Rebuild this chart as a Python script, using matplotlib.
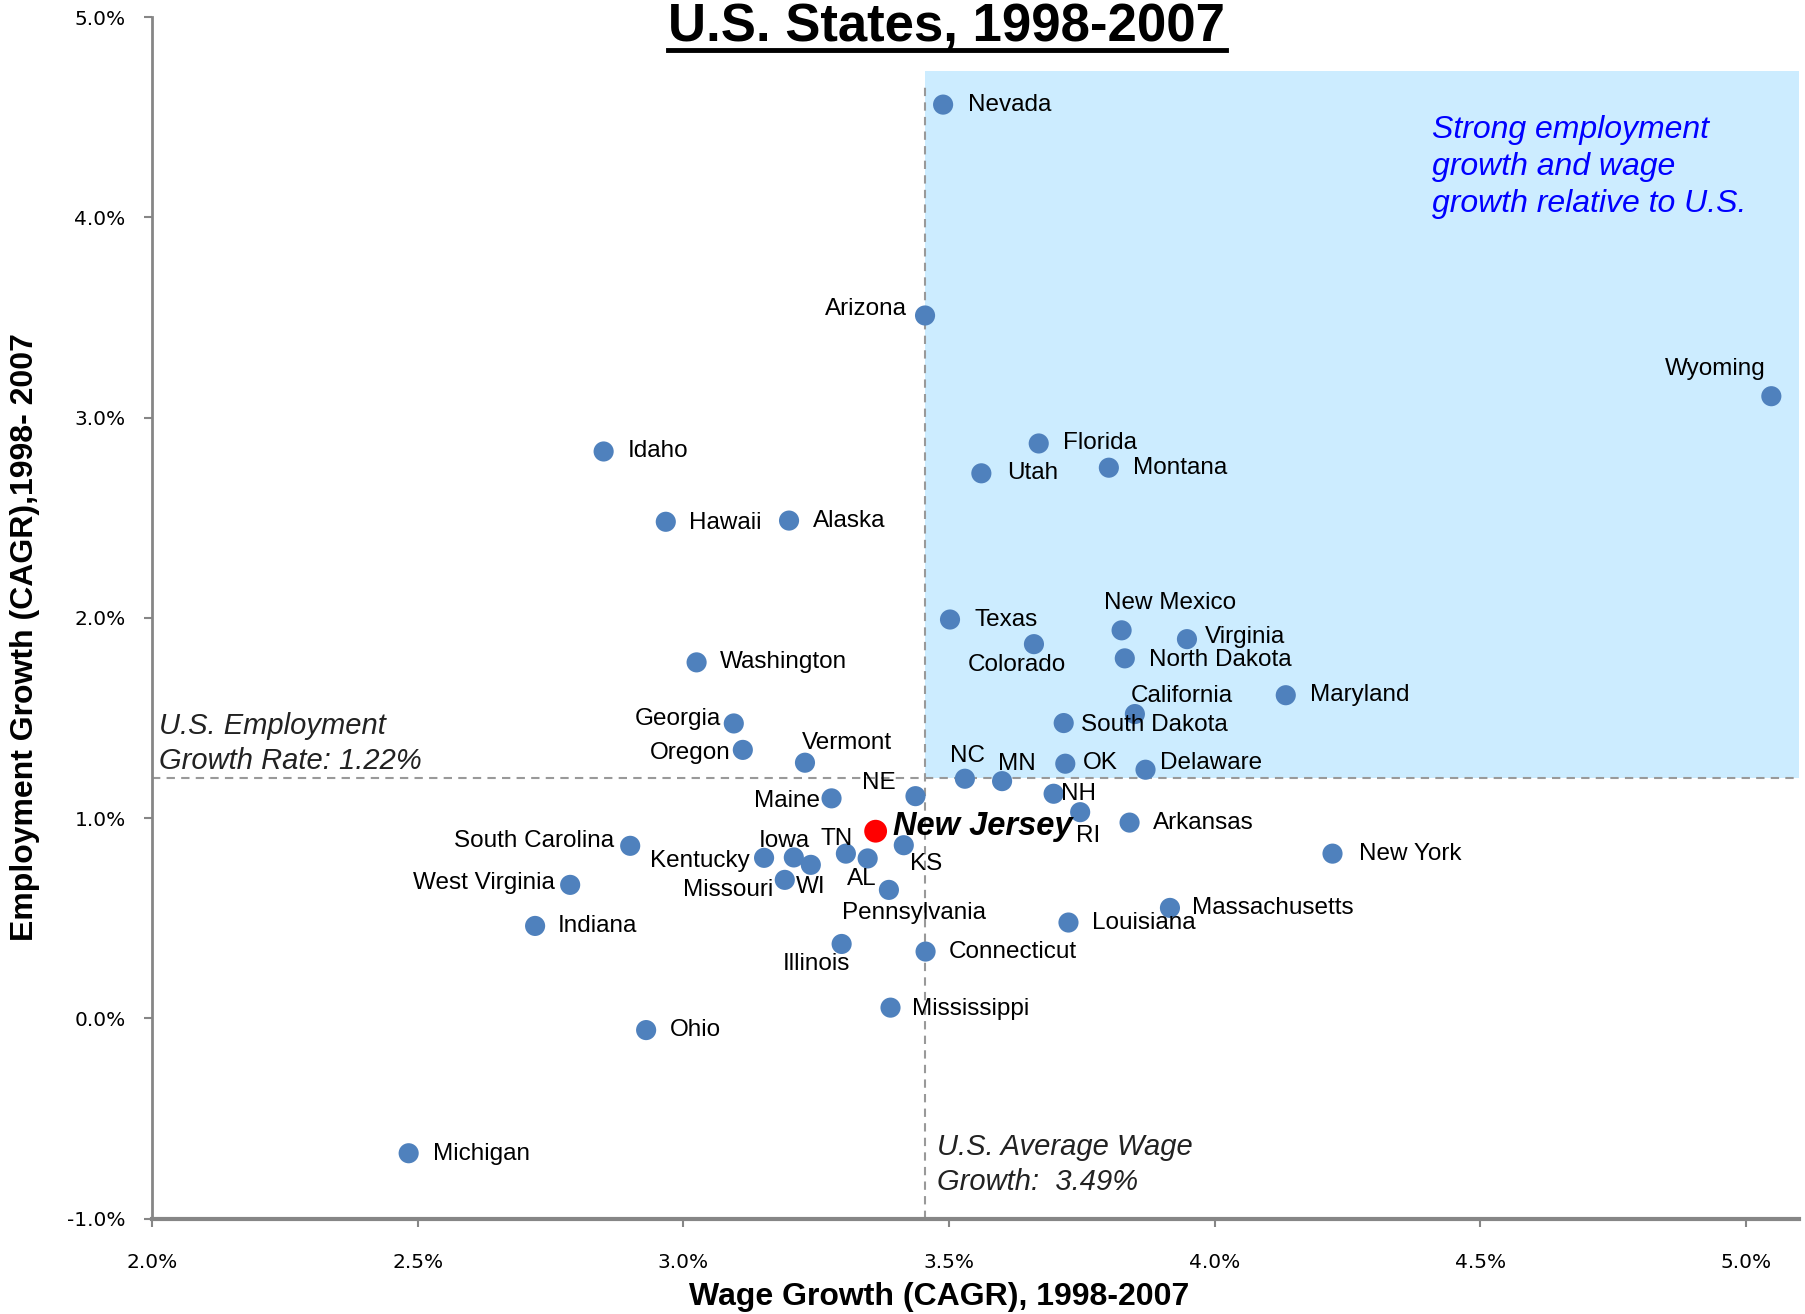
import matplotlib
matplotlib.use("Agg")
import matplotlib.pyplot as plt
from matplotlib.patches import Rectangle
from matplotlib.lines import Line2D
from matplotlib.ticker import FuncFormatter, MultipleLocator


STATES = [
    "Nevada", "Arizona", "Wyoming", "Idaho", "Florida", "Utah", "Montana",
    "Hawaii", "Alaska", "Texas", "Colorado", "New Mexico", "Virginia",
    "North Dakota", "Washington", "Maryland", "California", "South Dakota",
    "Georgia", "Oregon", "Vermont", "OK", "Delaware", "NC", "MN", "NE", "NH",
    "Maine", "RI", "Arkansas", "KS", "South Carolina", "TN", "New York",
    "Iowa", "Kentucky", "WI", "AL", "Missouri", "Pennsylvania",
    "Massachusetts", "Louisiana", "West Virginia", "Indiana", "Illinois",
    "Connecticut", "Mississippi", "Ohio", "Michigan",
]
WAGE_GROWTH = [
    3.489, 3.455, 5.048, 2.850, 3.669, 3.561, 3.801,
    2.967, 3.199, 3.502, 3.660, 3.825, 3.948,
    3.831, 3.025, 4.134, 3.850, 3.716,
    3.095, 3.112, 3.229, 3.719, 3.870, 3.530, 3.600, 3.437, 3.697,
    3.279, 3.747, 3.840, 3.415, 2.900, 3.306, 4.222,
    3.208, 3.152, 3.240, 3.347, 3.191, 3.387,
    3.916, 3.725, 2.787, 2.721, 3.298,
    3.456, 3.390, 2.930, 2.483,
]
EMP_GROWTH = [
    4.563, 3.510, 3.107, 2.831, 2.871, 2.722, 2.750,
    2.480, 2.486, 1.992, 1.869, 1.938, 1.894,
    1.798, 1.778, 1.614, 1.520, 1.475,
    1.473, 1.341, 1.277, 1.272, 1.242, 1.197, 1.185, 1.110, 1.122,
    1.099, 1.030, 0.978, 0.865, 0.862, 0.823, 0.823,
    0.804, 0.802, 0.767, 0.799, 0.692, 0.642,
    0.552, 0.479, 0.667, 0.462, 0.372,
    0.334, 0.054, -0.058, -0.673,
]
HIGHLIGHT = "New Jersey"
HIGHLIGHT_WAGE = 3.362
HIGHLIGHT_EMP = 0.935

US_WAGE_LINE = 3.455
US_EMP_LINE = 1.20

# label offsets (px in the 1568-wide view) and alignment
S = 1806 / 1568
LABEL_POS = {
    "Nevada": (22, 0, "left"), "Arizona": (-16, 6, "right"),
    "Wyoming": (-49, 24, "center"), "Idaho": (21, 0, "left"),
    "Florida": (21, 0, "left"), "Utah": (22, 0, "left"),
    "Montana": (21, 0, "left"), "Hawaii": (20, -1, "left"),
    "Alaska": (21, 0, "left"), "Texas": (21, 0, "left"),
    "Colorado": (-15, -18, "center"), "New Mexico": (42, 24, "center"),
    "Virginia": (16, 2, "left"), "North Dakota": (21, -1, "left"),
    "Washington": (20, 0, "left"), "Maryland": (21, 0, "left"),
    "California": (-4, 16, "left"), "South Dakota": (15, -2, "left"),
    "Georgia": (-11, 4, "right"), "Oregon": (-11, -3, "right"),
    "Vermont": (-3, 17, "left"), "OK": (15, 1, "left"),
    "Delaware": (13, 6, "left"), "NC": (2, 20, "center"),
    "MN": (13, 15, "center"), "NE": (-17, 11, "right"),
    "NH": (6, 0, "left"), "Maine": (-10, -2, "right"),
    "RI": (-4, -21, "left"), "Arkansas": (20, 0, "left"),
    "KS": (5, -16, "left"), "South Carolina": (-14, 4, "right"),
    "TN": (-8, 13, "center"), "New York": (23, 0, "left"),
    "Iowa": (-8, 14, "center"), "Kentucky": (-12, -3, "right"),
    "WI": (0, -19, "center"), "AL": (-5, -18, "center"),
    "Missouri": (-10, -9, "right"), "Pennsylvania": (22, -20, "center"),
    "Massachusetts": (19, 0, "left"), "Louisiana": (20, 0, "left"),
    "West Virginia": (-13, 2, "right"), "Indiana": (20, 0, "left"),
    "Illinois": (-22, -17, "center"), "Connecticut": (20, 0, "left"),
    "Mississippi": (19, -1, "left"), "Ohio": (21, 0, "left"),
    "Michigan": (21, -1, "left"),
}

SANS = ["Liberation Sans", "DejaVu Sans"]
DOT = "#4F81BD"
AXIS_GRAY = "#868686"

fig = plt.figure(figsize=(18.06, 13.14), dpi=100)
ax = fig.add_axes([0.0842, 0.0725, 0.9119, 0.9145])

ax.set_xlim(2.0, 5.1)
ax.set_ylim(-1.0, 5.0)

# quadrant shading
ax.add_patch(Rectangle((US_WAGE_LINE, US_EMP_LINE), 5.1 - US_WAGE_LINE, 4.73 - US_EMP_LINE,
                       facecolor="#CCECFF", edgecolor="none", zorder=0))
ax.plot([US_WAGE_LINE, US_WAGE_LINE], [-1.0, 4.66], color="#999999",
        linestyle=(0, (4, 3)), linewidth=1.5, zorder=1)
ax.plot([2.0, 5.1], [US_EMP_LINE, US_EMP_LINE], color="#999999",
        linestyle=(0, (4, 3)), linewidth=1.5, zorder=1)

ax.scatter(WAGE_GROWTH, EMP_GROWTH, s=210, color=DOT, edgecolors="none", zorder=3)
ax.scatter([HIGHLIGHT_WAGE], [HIGHLIGHT_EMP], s=270, color="#FF0000", edgecolors="none", zorder=4)

for name, x, y in zip(STATES, WAGE_GROWTH, EMP_GROWTH):
    dx, dy, ha = LABEL_POS[name]
    ax.annotate(name, (x, y), xytext=(dx * S, dy * S), textcoords="offset pixels",
                ha=ha, va="center", fontsize=17.5, family=SANS, color="black", zorder=5)

ax.annotate(HIGHLIGHT, (HIGHLIGHT_WAGE, HIGHLIGHT_EMP), xytext=(15 * S, 4 * S),
            textcoords="offset pixels", ha="left", va="center", fontsize=23.5,
            fontweight="bold", fontstyle="italic", family=SANS, color="black", zorder=5)

ax.text(2.013, 1.372, "U.S. Employment\nGrowth Rate: 1.22%", fontsize=21,
        fontstyle="italic", family=SANS, color="#222222", ha="left", va="center",
        linespacing=1.33)
ax.text(3.477, -0.731, "U.S. Average Wage\nGrowth:  3.49%", fontsize=21,
        fontstyle="italic", family=SANS, color="#222222", ha="left", va="center",
        linespacing=1.33)
ax.text(4.41, 4.252, "Strong employment\ngrowth and wage\ngrowth relative to U.S.",
        fontsize=23, fontstyle="italic", family=SANS, color="#0000FF",
        ha="left", va="center", linespacing=1.29)

for side in ("top", "right"):
    ax.spines[side].set_visible(False)
ax.spines["left"].set_color(AXIS_GRAY)
ax.spines["left"].set_linewidth(2)
ax.spines["bottom"].set_color(AXIS_GRAY)
ax.spines["bottom"].set_linewidth(3)

ax.xaxis.set_major_locator(MultipleLocator(0.5))
ax.yaxis.set_major_locator(MultipleLocator(1.0))
pct = FuncFormatter(lambda v, _: f"{v:.1f}%")
ax.xaxis.set_major_formatter(pct)
ax.yaxis.set_major_formatter(pct)
ax.tick_params(axis="both", direction="out", length=6, width=1.5, color=AXIS_GRAY,
               labelsize=14.5, labelcolor="black")
ax.tick_params(axis="x", pad=19)
ax.tick_params(axis="y", pad=13)
for lab in ax.get_xticklabels() + ax.get_yticklabels():
    lab.set_family("DejaVu Sans")

fig.text(0.52, 0.013, "Wage Growth (CAGR), 1998-2007", ha="center", va="center",
         fontsize=23, fontweight="bold", family=SANS)
fig.text(0.0138, 0.515, "Employment Growth (CAGR),1998- 2007", ha="center", va="center",
         rotation=90, fontsize=23, fontweight="bold", family=SANS)

title = fig.text(0.524, 0.998, "U.S. States, 1998-2007", ha="center", va="top",
                 fontsize=38, fontweight="bold", family=SANS)

# underline the title
fig.canvas.draw()
bb = title.get_window_extent()
W, H = fig.canvas.get_width_height()
uy = (bb.y0 + 3) / H
fig.add_artist(Line2D([bb.x0 / W, bb.x1 / W], [uy, uy], color="black", linewidth=3.5))

fig.savefig("out.png", dpi=100)
